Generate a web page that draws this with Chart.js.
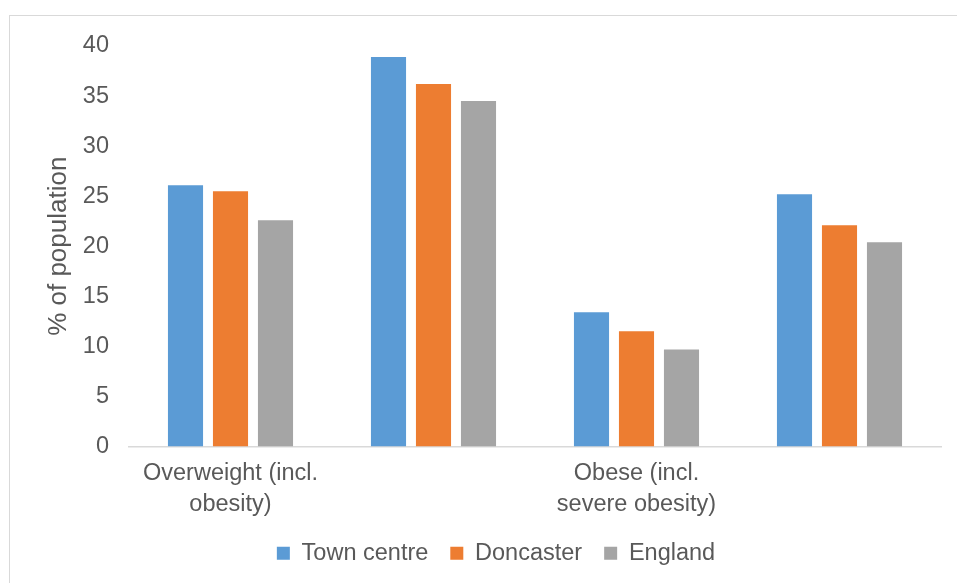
<!DOCTYPE html>
<html>
<head>
<meta charset="utf-8">
<script src="https://cdn.jsdelivr.net/npm/chart.js@4/dist/chart.umd.min.js"></script>
<style>
  html, body { margin: 0; padding: 0; background: #fff; overflow: hidden; }
  #frame {
    position: absolute; left: 9px; top: 15px; width: 1000px; height: 1000px;
    border-left: 1.5px solid #d9d9d9; border-top: 1.5px solid #d9d9d9;
  }
  #wrap { position: absolute; left: 0; top: 0; width: 957px; height: 583px; }
</style>
</head>
<body>
<div id="frame"></div>
<div id="wrap"><canvas id="chart"></canvas></div>
<script>
// カテゴリ（2番目・4番目のラベルは元図で省略表示）
const categories = [
  ["Overweight (incl.", "obesity)"],
  "",
  ["Obese (incl.", "severe obesity)"],
  ""
];
const townCentre = [26.1, 38.9, 13.4, 25.2];
const doncaster  = [25.5, 36.2, 11.5, 22.1];
const england    = [22.6, 34.5, 9.7, 20.4];
const yTicks = [0, 5, 10, 15, 20, 25, 30, 35, 40];

const textColor = "#595959";
const fontFamily = "'Liberation Sans', Arial, sans-serif";

const ctx = document.getElementById("chart").getContext("2d");
new Chart(ctx, {
  type: "bar",
  data: {
    labels: categories,
    datasets: [
      { label: "Town centre", data: townCentre, backgroundColor: "#5B9BD5" },
      { label: "Doncaster",   data: doncaster,  backgroundColor: "#ED7D31" },
      { label: "England",     data: england,    backgroundColor: "#A5A5A5" }
    ]
  },
  options: {
    responsive: true, maintainAspectRatio: false, animation: false,
    devicePixelRatio: 1,
    datasets: { bar: { categoryPercentage: 0.665, barPercentage: 0.78 } },
    layout: { padding: { left: 51, right: 16, top: 46, bottom: 8 } },
    scales: {
      x: {
        grid: { display: false },
        border: { display: true, color: "#d9d9d9", width: 1.5 },
        ticks: { color: textColor, font: { family: fontFamily, size: 23.5, lineHeight: 1.3 }, padding: 4, maxRotation: 0, autoSkip: false },
        afterFit: s => { s.height = 73; }
      },
      y: {
        min: 0, max: 40,
        grid: { display: false, drawTicks: false },
        border: { display: false },
        afterBuildTicks: s => { s.ticks = yTicks.map(v => ({ value: v })); },
        ticks: { color: textColor, font: { family: fontFamily, size: 23.5 }, padding: 20 },
        title: { display: true, text: "% of population", color: textColor, font: { family: fontFamily, size: 26 }, padding: { top: -8, bottom: 0 } },
        afterFit: s => { s.width = 78; }
      }
    },
    plugins: {
      legend: {
        position: "bottom",
        labels: { color: textColor, font: { family: fontFamily, size: 23.5 }, boxWidth: 13, boxHeight: 13, padding: 22 }
      },
      tooltip: { enabled: false }
    }
  }
});
</script>
</body>
</html>
